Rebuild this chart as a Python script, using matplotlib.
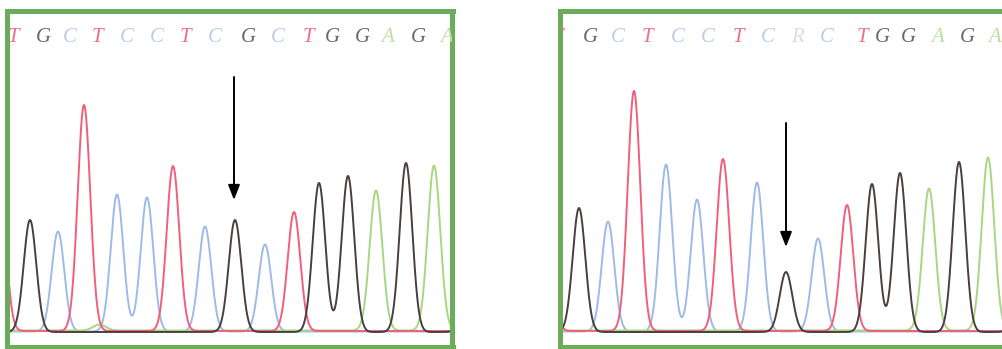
"""
Sanger chromatogram comparison: wild type (left) vs heterozygous G>R (right).
Peaks are drawn as gaussians from positions / heights read off the traces.
"""

import numpy as np
import matplotlib.pyplot as plt

# --- data -------------------------------------------------------------------
# base calls shown above each trace
left_bases = ["T", "G", "C", "T", "C", "C", "T", "C", "G", "C", "T", "G", "G", "A", "G", "A"]
left_base_pos = [5.5, 35.5, 62.5, 89.5, 119.5, 149.5, 177.5, 207.5, 240.5, 270.5,
                 300.5, 324.5, 354.5, 380.5, 410.5, 439.5]

right_bases = ["T", "G", "C", "T", "C", "C", "T", "C", "R", "C", "T", "G", "G", "A", "G", "A"]
right_base_pos = [-3, 30, 58, 87, 118, 148, 178, 208, 237, 267, 302, 322, 348, 378, 407, 435]

# peaks: channel, scan position, intensity
left_peak_base = ["T", "G", "C", "T", "C", "C", "T", "C", "G", "C", "T", "G", "G", "A", "G", "A", "G", "A"]
left_peak_pos = [-8, 22.5, 50.5, 76.5, 109.5, 139.5, 165.5, 197.5, 227.5, 257.5,
                 286.5, 311.5, 340.5, 368.5, 398.5, 426.5, 462, 92]
left_peak_height = [150, 112, 100, 226, 137, 134, 165, 105, 112, 87,
                    119, 149, 156, 140, 169, 165, 90, 6]

right_peak_base = ["T", "G", "C", "T", "C", "C", "T", "C", "G", "C", "T", "G", "G", "A", "G", "A", "G"]
right_peak_pos = [-14, 19, 48, 74, 106, 137, 163, 197, 226, 258,
                  287, 312, 340, 369, 399, 428, 462]
right_peak_height = [130, 124, 110, 240, 167, 132, 172, 149, 60, 93,
                     126, 148, 159, 142, 170, 173, 90]

# arrows (x, start height, tip height)
left_arrow = (226.5, 255, 132)
right_arrow = (226, 209, 85)

# --- style ------------------------------------------------------------------
TRACE = {"A": "#a6d884", "C": "#9dbbe8", "G": "#4a3e3e", "T": "#f0607a"}
LETTER = {"A": "#b9e09c", "C": "#b9cde9", "G": "#6e6868", "T": "#f07083", "R": "#dcdcdc"}
BASE_OFFSET = {"A": 1.5, "C": 0.5, "G": 0.0, "T": 1.0}
BORDER = "#6aac5a"
SIGMA = 6.3

W, H = 1003, 349


def draw_panel(ax, bases, base_pos, peak_base, peak_pos, peak_h, arrow, xmax):
    x = np.linspace(-30, 480, 3000)
    for ch in ["C", "A", "T", "G"]:
        y = np.full_like(x, BASE_OFFSET[ch])
        for b, p, h in zip(peak_base, peak_pos, peak_h):
            if b == ch:
                y += h * np.exp(-0.5 * ((x - p) / SIGMA) ** 2)
        ax.plot(x, y, color=TRACE[ch], lw=1.4, solid_joinstyle="round")

    for b, p in zip(bases, base_pos):
        ax.text(p, 294, b, color=LETTER[b], fontsize=15, family="Liberation Serif",
                style="italic", ha="center", va="center", clip_on=True)

    ax_x, y0, y1 = arrow
    ax.annotate("", xy=(ax_x, y1), xytext=(ax_x, y0),
                arrowprops=dict(arrowstyle="-|>,head_length=0.9,head_width=0.35",
                                color="black", lw=1.4, shrinkA=0, shrinkB=0))

    ax.set_xlim(0, xmax)
    ax.set_ylim(-15, 321.5)
    ax.set_xticks([])
    ax.set_yticks([])
    for s in ax.spines.values():
        s.set_color(BORDER)
        s.set_linewidth(3.6)


fig = plt.figure(figsize=(W / 100, H / 100), dpi=100)

# panel boxes in pixels: left, right, top, bottom (border centre lines)
ax_l = fig.add_axes([7.5 / W, 2 / H, 445 / W, 336.5 / H])
ax_r = fig.add_axes([560 / W, 2 / H, 450 / W, 336.5 / H])

draw_panel(ax_l, left_bases, left_base_pos, left_peak_base, left_peak_pos,
           left_peak_height, left_arrow, 445)
draw_panel(ax_r, right_bases, right_base_pos, right_peak_base, right_peak_pos,
           right_peak_height, right_arrow, 450)

fig.savefig("out.png", dpi=100)
plt.close(fig)
